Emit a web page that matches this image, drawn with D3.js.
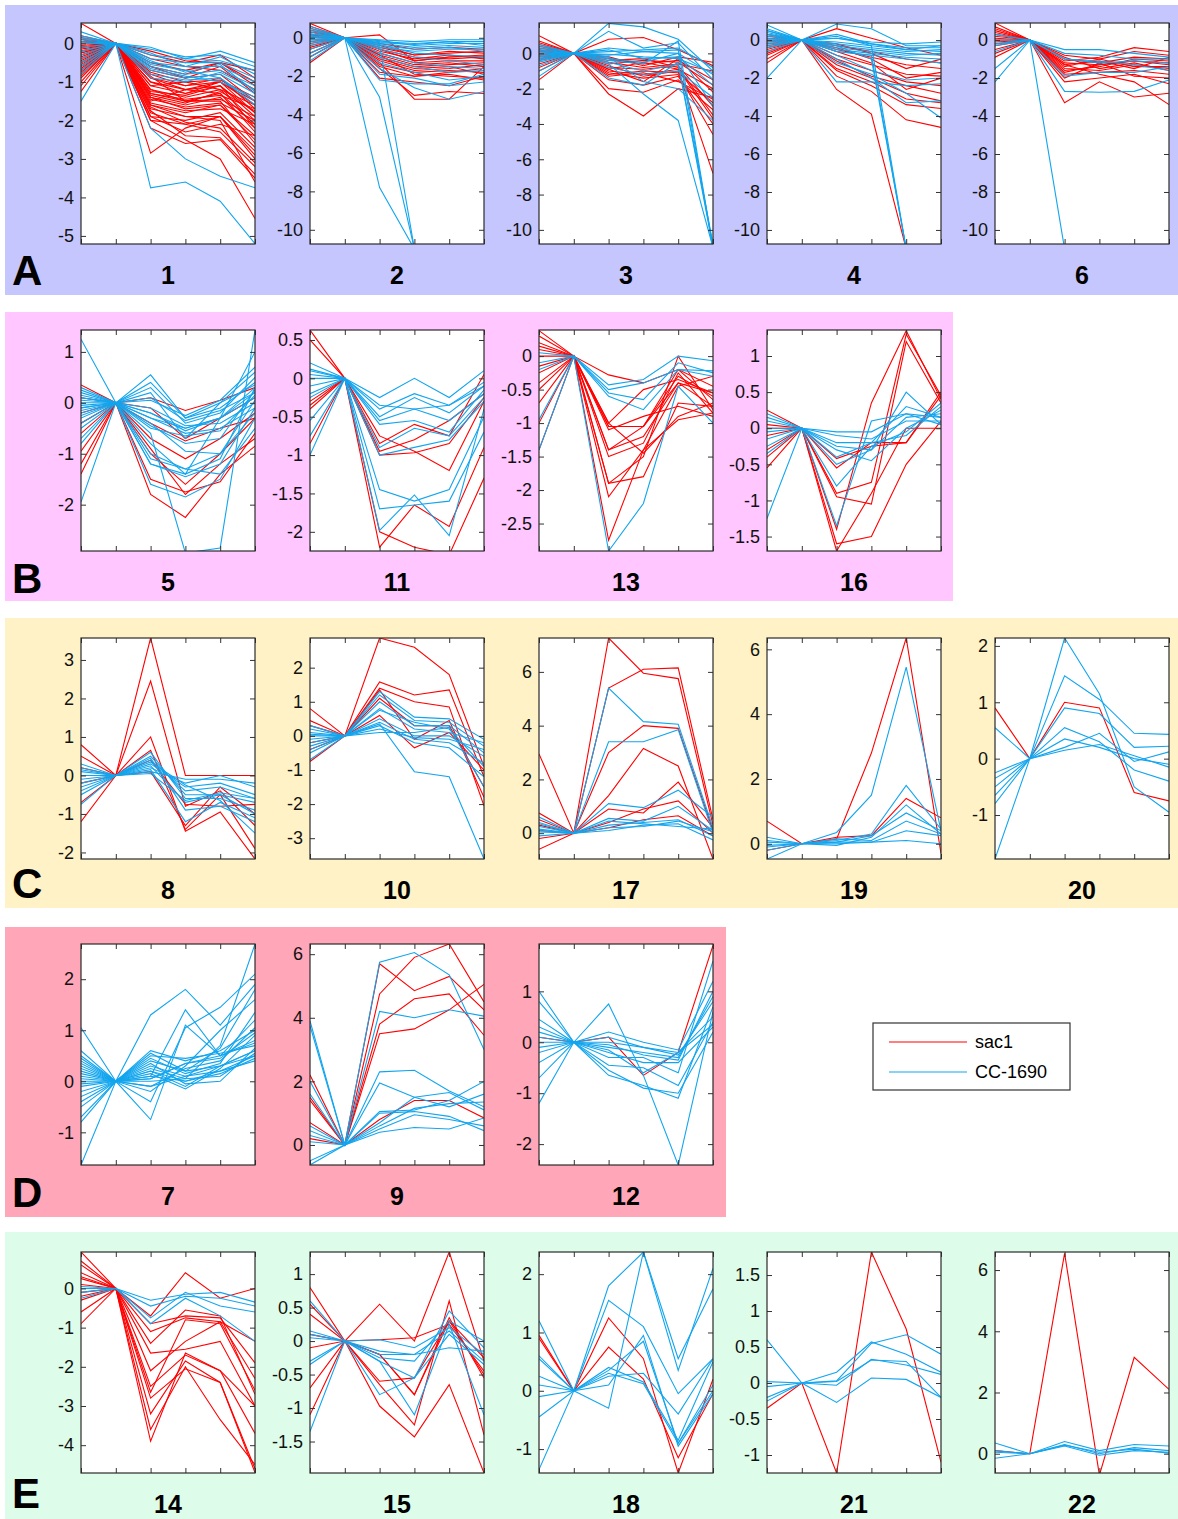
<!DOCTYPE html>
<html>
<head>
<meta charset="utf-8">
<script src="https://cdn.jsdelivr.net/npm/d3@7"></script>
<style>
  body { margin: 0; background: #fff; }
  svg { display: block; font-family: "Liberation Sans", Arial, sans-serif; }
  .tick text { font-size: 18px; fill: #111; }
  .tick line { stroke: #333; }
</style>
</head>
<body>
<div id="chart"></div>
<script>
// time points (6 samples, second one is the reference = 0)
var timePoints = [0, 1, 2, 3, 4, 5];

// ---- cluster profiles: [t0..t5] per gene, red = sac1, blue = CC-1690 ----
var c1_red = [
  [0.52,0,-0.9,-1.1,-1.0,-1.6],[0.2,0,-0.5,-0.7,-0.5,-1.0],[0.1,0,-0.7,-0.9,-0.6,-1.3],
  [0.05,0,-1.0,-1.2,-1.0,-1.8],[0,0,-0.6,-0.9,-0.8,-1.5],[-0.1,0,-1.2,-1.4,-1.2,-2.0],
  [-0.15,0,-0.8,-1.1,-0.9,-1.7],[-0.2,0,-1.4,-1.6,-1.4,-2.2],[-0.25,0,-1.1,-1.3,-1.1,-1.9],
  [-0.3,0,-1.6,-1.8,-1.6,-2.4],[-0.35,0,-0.9,-1.2,-1.3,-2.1],[-0.4,0,-1.3,-1.5,-1.5,-2.6],
  [-0.45,0,-1.7,-1.9,-1.9,-2.8],[-0.5,0,-1.0,-1.3,-1.0,-1.5],[-0.55,0,-1.5,-1.2,-1.1,-1.8],
  [-0.6,0,-1.8,-2.1,-1.9,-3.0],[-0.65,0,-1.2,-1.5,-1.3,-2.3],[-0.7,0,-2.0,-2.1,-2.3,-3.2],
  [-0.75,0,-1.9,-2.0,-1.8,-2.7],[-0.8,0,-1.4,-1.7,-1.6,-2.5],[-0.9,0,-2.2,-2.6,-2.5,-3.5],
  [-1.0,0,-2.85,-2.2,-1.9,-2.9],[-1.1,0,-1.6,-1.9,-2.0,-3.6],[-1.25,0,-2.0,-2.5,-3.0,-4.55],
  [0.1,0,-0.4,-0.6,-0.7,-1.2],[-0.05,0,-0.3,-0.5,-0.3,-0.9],[-0.2,0,-0.6,-0.8,-0.5,-1.1],
  [-0.3,0,-1.9,-2.3,-2.1,-2.4],[0.15,0,-1.1,-1.0,-1.2,-1.6],[-0.4,0,-1.25,-1.35,-1.1,-2.2],
  [-0.6,0,-0.85,-1.5,-1.45,-1.9],[-0.1,0,-1.55,-1.75,-1.7,-2.1],[-0.5,0,-1.75,-2.4,-2.45,-3.4],
  [0,0,-0.75,-1.0,-0.95,-1.4],[-0.25,0,-1.35,-1.55,-1.25,-1.75],[-0.85,0,-1.65,-2.05,-2.2,-3.1],
  [-0.1,0,-0.2,-0.45,-0.5,-0.7],[-0.7,0,-1.45,-1.65,-1.55,-2.0],[0.05,0,-1.3,-1.45,-1.35,-1.7]
];
var c1_blue = [
  [0.3,0,-0.1,-0.4,-0.2,-0.5],[0.2,0,-0.15,-0.35,-0.3,-0.6],[0.1,0,-0.3,-0.4,-0.45,-0.7],
  [0,0,-0.4,-0.5,-0.5,-0.9],[-0.1,0,-0.5,-0.6,-0.6,-1.0],[-0.2,0,-0.6,-0.8,-0.7,-1.1],
  [-0.3,0,-0.7,-0.9,-0.8,-1.3],[-0.5,0,-0.8,-0.95,-0.9,-1.5],[-0.7,0,-0.65,-0.85,-1.0,-1.4],
  [-0.8,0,-0.9,-1.0,-0.75,-1.2],[-1.5,0,-3.75,-3.6,-4.1,-5.2],[-0.6,0,-2.2,-3.0,-3.45,-3.75],
  [0.05,0,-0.25,-0.6,-0.35,-0.8],[-0.4,0,-0.55,-0.7,-0.9,-1.6],[0.15,0,-0.45,-0.75,-0.55,-1.25]
];
var c2_red = [
  [0.75,0,-0.3,-0.6,-0.5,-0.6],[0.6,0,-0.5,-0.9,-0.8,-0.7],[0.5,0,0.15,-1.2,-1.0,-0.9],
  [0.4,0,-0.6,-1.0,-1.1,-1.0],[0.3,0,-0.8,-1.3,-1.2,-1.2],[0.2,0,-0.4,-0.9,-0.7,-0.8],
  [0.1,0,-1.0,-1.5,-1.4,-1.3],[0,0,-0.7,-1.1,-0.9,-1.1],[-0.1,0,-1.2,-1.7,-1.6,-1.4],
  [-0.2,0,-0.9,-1.4,-1.3,-1.5],[-0.3,0,-1.5,-2.0,-1.8,-1.6],[-0.5,0,-1.1,-1.6,-1.5,-1.9],
  [-0.6,0,-2.1,-2.3,-2.5,-2.0],[-0.8,0,-1.3,-3.2,-3.2,-1.5],[-1.0,0,-1.6,-3.0,-2.8,-2.9],
  [-1.3,0,-0.9,-1.9,-2.0,-2.1],[0.3,0,-1.4,-1.8,-1.7,-1.8],[-0.4,0,-1.8,-2.0,-1.9,-2.2],
  [0.15,0,-0.6,-1.2,-1.0,-0.95]
];
var c2_blue = [
  [0.6,0,-0.1,-0.2,-0.1,-0.1],[0.5,0,-0.2,-0.3,-0.2,-0.2],[0.4,0,-0.15,-0.4,-0.3,-0.3],
  [0.3,0,-0.3,-0.5,-0.4,-0.5],[0.2,0,-0.25,-0.35,-0.2,-0.4],[0.1,0,-0.4,-0.6,-0.5,-0.7],
  [0,0,-0.5,-0.7,-0.6,-0.6],[-0.1,0,-0.35,-0.8,-0.9,-1.0],[-0.2,0,-0.6,-1.0,-1.2,-1.4],
  [-0.4,0,-0.8,-1.3,-1.5,-1.6],[-0.6,0,-1.0,-1.5,-1.8,-1.7],[-0.8,0,-1.3,-1.8,-2.2,-2.0],
  [-1.2,0,-2.2,-2.4,-2.4,-1.9],[-1.0,0,-1.6,-2.6,-3.2,-2.8],[0.1,0,-1.9,-2.1,-2.5,-2.3],
  [-0.3,0,-7.8,-11,-11,-11],[0.2,0,-3.1,-11,-11,-11],[-0.1,0,-0.4,-11,-11,-11]
];
var c3_red = [
  [1.0,0,-0.5,-0.8,-0.6,-1.0],[0.7,0,0.8,0.9,0.2,-0.7],[0.5,0,-0.3,-0.6,-0.4,-1.5],
  [0.3,0,-1.0,-1.2,-0.9,-2.0],[0.1,0,-0.6,-0.4,-0.5,-1.8],[0,0,-2.3,-3.55,-2.0,-2.5],
  [-0.2,0,-1.2,-1.0,-1.1,-2.8],[-0.4,0,-2.0,-2.2,-1.5,-3.2],[-0.6,0,-0.8,-0.9,-0.7,-3.0],
  [-0.8,0,-1.1,-1.4,-1.2,-4.6],[-1.0,0,-0.4,-0.3,-0.8,-3.5],[-1.5,0,-0.9,-1.6,-0.3,-2.2],
  [0.2,0,-0.7,-1.3,-1.0,-6.8],[-0.3,0,-1.5,-1.8,-1.3,-4.0],[0.4,0,-0.2,-0.7,-0.2,-0.5],
  [-0.1,0,-1.3,-1.1,-1.6,-2.6],[0.6,0,-0.9,-0.5,-0.9,-3.7]
];
var c3_blue = [
  [0.2,0,1.7,1.5,0.8,-1.0],[-0.3,0,1.25,0.3,0.6,-1.5],[0.5,0,0.1,0.2,0.3,-0.8],
  [0.3,0,-0.1,0.1,0.2,-11],[0,0,-0.3,-0.5,0,-1.2],[-0.2,0,-0.5,-1.0,-0.6,-11],
  [-0.5,0,-0.2,-1.6,-2.0,-3.8],[-0.7,0,-0.6,-2.3,-3.8,-11],[-1.0,0,-0.4,-0.6,0.7,-11],
  [0.1,0,0.2,-0.3,-0.2,-1.8],[-0.4,0,-0.8,-1.2,-1.0,-2.5],[-1.3,0,0.3,0.1,0,-3.0],
  [0.4,0,-0.05,-0.2,-0.3,-1.1],[-0.1,0,-1.4,-1.8,-0.5,-10.8]
];
var c4_red = [
  [0.3,0,0.6,0.1,-0.4,-0.8],[0.1,0,-0.3,-0.6,-1.0,-1.2],[0,0,-0.5,-0.9,-1.3,-1.5],
  [-0.2,0,-0.8,-1.3,-1.8,-1.9],[-0.4,0,-1.0,-1.6,-2.2,-2.4],[-0.6,0,-0.6,-1.2,-2.6,-2.0],
  [-0.8,0,-1.3,-2.0,-2.8,-3.2],[-1.0,0,-1.6,-2.4,-3.4,-3.6],[-1.2,0,-2.6,-3.9,-11,-11],
  [-0.5,0,-1.9,-2.7,-4.2,-4.6],[0.2,0,-0.2,-0.7,-1.5,-1.0],[-0.3,0,-1.1,-1.9,-2.4,-2.8],
  [-0.7,0,-0.4,-1.0,-2.0,-1.7],[-0.1,0,-1.5,-2.2,-3.1,-3.3]
];
var c4_blue = [
  [0.8,0,0.1,-0.1,-0.2,-0.1],[0.6,0,0.85,0.6,-0.3,-0.3],[0.5,0,0.3,-0.2,-0.4,-0.4],
  [0.4,0,-0.1,-0.3,-0.5,-0.6],[0.3,0,-0.2,-0.4,-0.6,-0.5],[0.2,0,-0.3,-0.5,-0.7,-0.8],
  [0.1,0,-0.4,-0.6,-0.8,-0.7],[0,0,-0.5,-0.7,-0.9,-1.0],[-0.2,0,-0.6,-0.8,-1.0,-1.2],
  [-0.4,0,-2.2,-2.2,-2.4,-2.3],[-0.6,0,-0.8,-1.6,-2.1,-2.0],[-2.0,0,-1.0,-2.0,-3.3,-3.2],
  [0.3,0,0.2,-0.3,-11,-11],[-0.1,0,-0.3,-1.0,-11,-11],[0.1,0,-0.6,-0.8,-11,-11],
  [-0.3,0,-1.2,-1.8,-2.8,-4.1],[0.5,0,0.1,-0.2,-0.5,-0.3]
];
var c6_red = [
  [0.9,0,-0.8,-1.0,-0.6,-0.8],[0.7,0,-1.0,-1.2,-0.9,-1.0],[0.5,0,-1.2,-1.3,-1.1,-1.2],
  [0.3,0,-1.4,-1.0,-1.4,-1.4],[0.2,0,-0.9,-1.5,-1.2,-1.6],[0,0,-1.6,-1.4,-1.0,-1.1],
  [-0.1,0,-1.8,-1.7,-1.6,-1.8],[-0.3,0,-2.0,-1.2,-1.9,-2.0],[-0.5,0,-3.3,-2.2,-3.0,-2.8],
  [-0.7,0,-1.3,-1.8,-2.2,-3.4],[0.4,0,-1.1,-0.9,-0.4,-0.6],[0.1,0,-1.5,-1.6,-1.3,-1.5],
  [-0.2,0,-2.2,-2.0,-1.8,-2.3],[0.6,0,-1.3,-1.1,-1.5,-0.9],[-0.9,0,-1.7,-1.3,-1.1,-1.3]
];
var c6_blue = [
  [0.3,0,-0.5,-0.5,-0.7,-0.9],[0,0,-0.7,-0.8,-1.0,-1.0],[-0.3,0,-1.9,-1.7,-1.7,-1.4],
  [-0.6,0,-2.7,-2.75,-2.7,-2.1],[-1.5,0,-11,-11,-11,-11],[-2.2,0,-1.0,-1.2,-1.1,-1.2],
  [-0.2,0,-1.0,-1.1,-1.3,-1.6]
];
var c5_red = [
  [0.35,0,0.1,-0.15,0.05,0.3],[-0.2,0,-0.1,-0.7,-0.3,0.1],[-0.6,0,-0.4,-0.75,-0.5,-0.3],
  [-0.95,0,-0.7,-1.1,-0.7,-0.2],[-1.4,0,-1.5,-1.75,-1.55,-0.6],[-0.4,0,-1.8,-2.25,-1.4,-0.85],
  [-1.2,0,-1.0,-1.6,-1.0,-0.3],[0.1,0,-0.9,-1.8,-1.2,-0.7]
];
var c5_blue = [
  [1.25,0,-0.3,-0.5,-0.3,0.2],[-1.95,0,-1.2,-1.4,-1.1,0.3],[0.2,0,0.55,-0.3,0,0.6],
  [0.1,0,0.4,-0.3,-0.1,0.4],[0,0,0.3,-0.4,-0.2,0.5],[-0.1,0,-0.2,-0.5,-0.3,0.1],
  [0.05,0,0.1,-0.35,-0.15,0.2],[-0.2,0,-0.1,-0.45,-0.4,0],[-0.3,0,-0.3,-0.6,-0.5,-0.1],
  [-0.05,0,-0.2,-0.55,-0.3,0.3],[0.15,0,0.05,-0.25,0.05,0.7],[-0.5,0,-0.5,-0.65,-0.55,0.15],
  [-0.7,0,-1.1,-1.3,-1.0,-0.2],[-0.1,0,-1.2,-1.45,-1.2,-0.1],[-0.25,0,-1.6,-1.85,-1.5,-0.3],
  [0.3,0,-0.8,-1.4,-0.3,1.0],[-0.4,0,-0.4,-0.95,-1.0,0.05],[0.1,0,-0.6,-2.95,-2.85,1.43],
  [-0.15,0,-1.0,-1.3,-1.4,-0.5],[0.25,0,0.2,-0.7,0,0.35],[-0.8,0,-0.45,-0.8,-0.7,0.25]
];
var c11_red = [
  [0.63,0,-2.2,-1.65,-1.93,-0.9],[0.5,0,-2.0,-2.2,-2.3,-1.3],[-0.3,0,-0.85,-0.6,-0.75,0.05],
  [-0.35,0,-0.75,-0.95,-1.2,-0.3],[-0.85,0,-0.95,-0.8,-0.55,-0.2],[-0.4,0,-1.0,-0.97,-0.85,-0.25]
];
var c11_blue = [
  [0.2,0,-0.25,0,-0.25,0.1],[0.12,0,-0.4,-0.2,-0.35,-0.05],[0.05,0,-0.5,-0.25,-0.45,-0.1],
  [0,0,-0.55,-0.4,-0.55,-0.2],[-0.1,0,-0.6,-0.55,-0.7,-0.15],[-0.25,0,-0.35,-0.4,-0.35,-0.1],
  [-0.75,0,-1.0,-0.9,-0.8,-0.3],[-1.0,0,-1.45,-1.6,-1.45,-0.5],[-0.55,0,-1.7,-1.65,-1.6,-0.7],
  [0.1,0,-1.98,-1.52,-2.05,-0.4],[-0.2,0,-0.9,-0.65,-0.75,-0.25]
];
var c13_red = [
  [0.38,0,-0.28,-0.4,-0.2,-0.45],[0.3,0,-1.05,-1.05,-0.2,-0.65],[0.15,0,-1.0,-0.5,-0.35,-0.55],
  [0.1,0,-1.4,-1.2,-0.4,-0.75],[0,0,-1.5,-1.3,-0.25,-0.85],[-0.15,0,-1.9,-1.5,0,-0.8],
  [-0.25,0,-1.9,-1.8,-0.7,-0.75],[-0.4,0,-2.1,-1.4,-0.95,-0.85],[-0.7,0,-2.75,-1.4,-0.45,-0.3],
  [-1.0,0,-1.1,-0.9,-0.75,-0.9],[-1.4,0,-1.0,-1.45,-0.9,-0.7],[0.2,0,-1.05,-1.05,-0.4,-0.55],
  [-0.5,0,-1.4,-1.05,-0.3,-0.6]
];
var c13_blue = [
  [0.05,0,-0.43,-0.35,0,-0.07],[-0.1,0,-0.55,-0.65,-0.1,-0.25],[-0.2,0,-0.6,-0.8,-0.2,-0.22],
  [-0.95,0,-0.5,-0.4,-0.2,-0.3],[-1.4,0,-2.91,-2.2,-0.45,-1.0]
];
var c16_red = [
  [0.25,0,-0.42,-0.25,-0.2,0.5],[0,0,-0.9,-0.75,1.3,0.45],[-0.1,0,-0.95,-1.05,1.2,0.35],
  [-0.4,0,-1.4,0.35,1.35,0.4],[-0.55,0,-1.7,-0.9,0,0],[-0.3,0,-1.6,-1.5,-0.5,0.1],
  [0.05,0,-0.55,-0.2,-0.2,0.45]
];
var c16_blue = [
  [0.2,0,-0.05,-0.05,0.2,0.05],[0.15,0,-0.1,-0.15,0.1,0.1],[0.1,0,-0.2,-0.2,0.3,0.15],
  [0,0,-0.25,-0.3,0.5,0.05],[-0.05,0,-0.3,-0.45,0,0.25],[-0.15,0,-0.4,-0.2,-0.1,0.3],
  [-0.25,0,-0.5,-0.3,0.15,0.2],[-0.35,0,-0.8,-0.25,-0.05,0.35],[-1.25,0,-1.35,0.1,0.2,0.15]
];
var c8_red = [
  [0.8,0,3.57,0,0,0],[0.5,0,2.45,-0.8,-0.4,-1.3],[0.2,0,1.0,-1.45,-0.95,-2.17],
  [-0.2,0,0.65,-1.4,-0.5,-1.9],[-0.7,0,0.4,-0.75,-0.8,-0.75],[-1.2,0,0.1,-1.3,-0.3,-1.0]
];
var c8_blue = [
  [0.3,0,0.1,-0.1,-0.1,-0.2],[0.2,0,0.2,-0.2,0,-0.3],[0.1,0,0.3,-0.3,-0.2,-0.5],
  [0,0,0.4,-0.4,-0.3,-0.6],[-0.1,0,0.5,-0.5,-0.5,-0.7],[-0.2,0,0.6,-0.6,-0.6,-0.9],
  [-0.3,0,0.25,-0.7,-0.5,-1.0],[-0.5,0,0.15,-1.2,-0.7,-1.1],[-0.75,0,0.35,-0.25,-0.65,-1.5],
  [0.15,0,0.05,-0.65,-0.45,-0.6],[-0.4,0,0.45,-0.9,-0.8,-1.2]
];
var c10_red = [
  [0.8,0,2.87,2.6,1.8,-0.9],[0.45,0,1.58,1.2,1.35,-1.2],[0.3,0,1.4,1.0,0.85,-2.05],
  [-0.2,0,1.1,0.3,0.3,-1.5],[-0.4,0,0.6,-0.35,0.1,-1.0],[-0.75,0,1.35,-0.1,0.45,-1.8]
];
var c10_blue = [
  [0.3,0,1.3,0.55,0.5,-0.1],[0.2,0,1.2,0.45,0.4,-0.3],[0.1,0,1.0,0.3,0.3,-0.5],
  [0,0,0.8,0.2,0.1,-0.2],[-0.1,0,0.5,0,0,-0.6],[-0.2,0,0.4,-0.1,-0.2,-0.8],
  [-0.3,0,0.3,-0.2,-0.35,-1.2],[-0.5,0,0.2,-0.05,-0.1,-0.4],[-0.7,0,0.1,0.1,0.25,-1.5],
  [0.05,0,0.35,-1.05,-1.2,-3.61],[-0.4,0,0.75,0.4,0.2,-0.9]
];
var c17_red = [
  [2.95,0,7.26,5.95,5.75,0.3],[0.75,0,3.0,4.0,3.9,0.1],[0.5,0,1.4,3.15,2.5,-0.96],
  [-0.2,0,0.9,0.75,1.9,0.2],[-0.6,0,0.4,0.9,1.2,0],[0.3,0,5.4,6.1,6.15,0.5],
  [0.1,0,0.2,0.5,0.65,-0.1]
];
var c17_blue = [
  [0.6,0,5.4,4.15,4.05,0.2],[0.4,0,3.4,3.4,3.85,0],[0.25,0,1.1,0.95,1.6,0.6],
  [0.15,0,0.55,0.45,1.0,0.1],[0.05,0,0.3,0.4,0.5,-0.1],[-0.1,0,0.1,0.3,0.35,-0.25],
  [0.35,0,0.2,0.25,0.45,0.05],[0.1,0,0.45,0.35,0.25,0.15]
];
var c19_red = [
  [0.7,0,0.15,2.8,6.35,-0.3],[-0.2,0,0.2,0.25,1.4,0.8]
];
var c19_blue = [
  [0.2,0,0.35,1.5,5.45,0.4],[0.05,0,0.1,0.3,1.8,0.45],[-0.1,0,-0.05,0.2,1.2,0.3],
  [-0.2,0,0.05,0.25,0.95,0.4],[-0.47,0,0.15,0.1,0.7,0.3],[-0.05,0,0,0.05,0.4,0.25],
  [0.1,0,0.05,0.05,0.1,0]
];
var c20_red = [
  [0.9,0,1.0,0.9,-0.6,-0.75]
];
var c20_blue = [
  [0.55,0,2.14,1.15,-0.5,-0.95],[-0.25,0,1.47,1.05,0.45,0.43],[-0.35,0,0.9,0.8,0.2,0.22],
  [-0.65,0,0.55,0.3,-0.2,-0.4],[-0.8,0,0.35,0.2,0,-0.1],[-1.78,0,0.2,0.45,-0.05,0.12],
  [-0.5,0,0.15,0.25,0.05,-0.15]
];
var c7_red = [];
var c7_blue = [
  [1.05,0,-0.1,0.1,0.3,0.6],[0.6,0,1.3,1.8,1.1,1.9],[0.5,0,0.1,1.4,0.5,0.8],
  [0.4,0,-0.75,1.1,0.5,1.2],[0.3,0,0.6,0.4,0.6,1.0],[0.25,0,0.5,0.45,0.55,0.7],
  [0.2,0,0.4,0.2,0.3,0.5],[0.15,0,0.3,0.1,0.2,0.4],[0.1,0,0.2,-0.1,0.3,0.6],
  [0.05,0,0.1,0,0.15,0.45],[0,0,0,0.05,0.1,0.55],[-0.05,0,0.15,-0.15,0.25,0.9],
  [-0.1,0,-0.1,0.25,0.4,1.05],[-0.2,0,-0.2,0.3,1.0,1.6],[-0.3,0,0.25,0.05,0.7,2.69],
  [-0.5,0,-0.4,1.05,1.45,2.1],[-0.7,0,0.45,0.15,0.35,1.35],[-0.8,0,0.05,0.35,0.5,0.75],
  [-1.64,0,0.35,-0.05,0,0.65],[0.35,0,0.55,0.2,0.65,1.8],[-0.4,0,0.2,0.0,0.2,0.5],
  [0.45,0,0.05,0.35,0.45,0.95]
];
var c9_red = [
  [2.2,0,5.7,4.85,5.3,4.25],[1.5,0,4.75,5.9,6.32,4.5],[0.7,0,3.8,4.6,4.75,3.45],
  [1.4,0,3.5,3.65,4.25,5.05],[0.2,0,0.8,1.4,1.4,0.85]
];
var c9_blue = [
  [3.9,0,5.75,6.05,5.35,3.0],[3.75,0,4.2,4.0,4.25,4.05],[2.0,0,2.3,2.35,1.7,1.2],
  [1.6,0,1.95,1.5,1.2,1.6],[0.6,0,1.05,1.1,1.4,2.0],[0.45,0,0.7,1.5,1.65,1.1],
  [0.1,0,0.5,0.95,0.8,0.6],[-0.5,0,0.4,0.55,0.5,0.85],[-0.63,0,1.0,1.05,0.9,0.45],
  [0.3,0,0.6,1.15,1.3,1.35]
];
var c12_red = [
  [0.1,0,0.1,-0.65,-0.2,1.9]
];
var c12_blue = [
  [1.0,0,0.1,-0.1,-0.2,0.5],[0.8,0,-0.1,-0.2,-0.3,0.9],[0.45,0,0.2,0,-0.15,1.2],
  [0.2,0,-0.2,-0.4,-0.4,0.3],[0.1,0,0.75,-0.65,-2.41,0.6],[0,0,-0.3,-0.3,-0.6,1.6],
  [-0.1,0,-0.45,-0.5,-0.85,0.4],[-0.2,0,-0.55,-0.9,-1.0,0.2],[-0.4,0,-0.65,-0.85,-1.1,0.7],
  [-0.7,0,-0.05,-0.25,-0.35,1.0],[-1.2,0,-0.15,-0.6,-0.2,0.35],[0.3,0,0,-0.1,-0.25,0.8]
];
var c14_red = [
  [0.93,0,-0.7,0.4,-0.25,0],[0.7,0,-0.9,-0.7,-0.75,-1.9],[0.6,0,-1.1,-0.75,-0.85,-2.3],
  [0.4,0,-1.4,-0.55,-0.7,-2.7],[0.25,0,-1.65,-1.55,-1.35,-3.0],[-0.2,0,-2.1,-1.35,-0.85,-1.35],
  [-0.3,0,-2.5,-1.7,-2.1,-3.7],[-0.6,0,-2.8,-2.05,-2.4,-4.6],[-0.9,0,-3.2,-1.85,-2.4,-4.7],
  [0.1,0,-3.6,-2.0,-3.35,-4.5],[-0.1,0,-3.9,-1.65,-2.1,-3.0],[0.3,0,-2.65,-0.8,-0.9,-2.6]
];
var c14_blue = [
  [0.05,0,-0.3,-0.15,-0.1,-0.35],[0,0,-0.45,-0.2,-0.25,-0.45],[-0.1,0,-0.75,-0.1,-0.45,-0.6],
  [-0.25,0,-0.9,-0.25,-0.7,-1.35]
];
var c15_red = [
  [0.8,0,-0.6,-0.55,0.3,-0.5],[0.55,0,-0.2,-0.8,0.35,-0.55],[0.4,0,-0.97,-1.43,-0.65,-1.97],
  [0.1,0,0.55,0,1.33,-0.3],[-0.1,0,-0.65,-1.25,0.6,-1.4],[-0.7,0,0.02,0.05,0.25,-0.45],
  [-1.1,0,-0.2,-0.8,0.3,-0.25]
];
var c15_blue = [
  [0.6,0,-0.3,-0.55,0.45,-0.1],[0.15,0,0.02,-0.1,0.2,-0.2],[0.1,0,-0.2,-0.2,0.15,-0.3],
  [-0.3,0,-0.25,-0.3,0.3,0],[-0.35,0,-0.8,-0.55,0.1,-0.35],[-1.35,0,-0.3,-1.1,0.25,-1.1],
  [0.05,0,-0.15,-0.2,-0.1,-0.15]
];
var c18_red = [
  [0.95,0,1.25,0.55,-1.41,0.2],[0.9,0,0.75,0.2,-1.15,-0.05]
];
var c18_blue = [
  [1.2,0,1.8,2.38,0.35,2.1],[0.6,0,1.55,1.1,-0.05,0.55],[0.55,0,-0.3,2.38,0.55,1.75],
  [0.25,0,0.4,0.15,-0.85,0.5],[0.1,0,0.35,0.85,-0.9,0],[-0.1,0,0.25,0.3,-0.4,0.55],
  [-0.45,0,0.1,0.95,-0.95,-0.05],[-1.35,0,0.3,0.12,-0.9,0.1]
];
var c21_red = [
  [-0.35,0,-1.25,1.82,0.75,-1.1]
];
var c21_blue = [
  [0.6,0,-0.27,0.07,0.05,-0.2],[0.02,0,0.03,0.55,0.67,0.4],[-0.05,0,-0.03,0.33,0.25,0.12],
  [-0.2,0,0.15,0.57,0.4,0.15],[-0.25,0,0.02,0.32,0.3,-0.2]
];
var c22_red = [
  [0.1,0,6.55,-0.7,3.15,2.1]
];
var c22_blue = [
  [0.35,0,0.4,0.1,0.3,0.25],[0.05,0,0.3,0,0.2,0.1],[-0.15,0,0.25,-0.05,0.1,0.05],
  [0.1,0,0.28,0.05,0.15,0.02]
];

// y axis ranges and tick labels per cluster
var yDomains = {
  1: [-5.21, 0.53], 2: [-10.74, 0.77], 3: [-10.8, 1.72], 4: [-10.74, 0.9], 6: [-10.74, 0.9],
  5: [-2.91, 1.43], 11: [-2.25, 0.63], 13: [-2.91, 0.39], 16: [-1.7, 1.36],
  8: [-2.17, 3.57], 10: [-3.61, 2.87], 17: [-0.96, 7.26], 19: [-0.47, 6.35], 20: [-1.78, 2.14],
  7: [-1.64, 2.69], 9: [-0.63, 6.32], 12: [-2.41, 1.93],
  14: [-4.71, 0.93], 15: [-1.97, 1.33], 18: [-1.41, 2.38], 21: [-1.25, 1.82], 22: [-0.63, 6.59]
};
var yTicks = {
  1: [0,-1,-2,-3,-4,-5], 2: [0,-2,-4,-6,-8,-10], 3: [0,-2,-4,-6,-8,-10],
  4: [0,-2,-4,-6,-8,-10], 6: [0,-2,-4,-6,-8,-10],
  5: [1,0,-1,-2], 11: [0.5,0,-0.5,-1,-1.5,-2], 13: [0,-0.5,-1,-1.5,-2,-2.5],
  16: [1,0.5,0,-0.5,-1,-1.5],
  8: [3,2,1,0,-1,-2], 10: [2,1,0,-1,-2,-3], 17: [6,4,2,0], 19: [6,4,2,0], 20: [2,1,0,-1],
  7: [2,1,0,-1], 9: [6,4,2,0], 12: [1,0,-1,-2],
  14: [0,-1,-2,-3,-4], 15: [1,0.5,0,-0.5,-1,-1.5], 18: [2,1,0,-1], 21: [1.5,1,0.5,0,-0.5,-1],
  22: [6,4,2,0]
};
var clusterData = {
  1: [c1_red, c1_blue], 2: [c2_red, c2_blue], 3: [c3_red, c3_blue], 4: [c4_red, c4_blue],
  6: [c6_red, c6_blue], 5: [c5_red, c5_blue], 11: [c11_red, c11_blue], 13: [c13_red, c13_blue],
  16: [c16_red, c16_blue], 8: [c8_red, c8_blue], 10: [c10_red, c10_blue], 17: [c17_red, c17_blue],
  19: [c19_red, c19_blue], 20: [c20_red, c20_blue], 7: [c7_red, c7_blue], 9: [c9_red, c9_blue],
  12: [c12_red, c12_blue], 14: [c14_red, c14_blue], 15: [c15_red, c15_blue],
  18: [c18_red, c18_blue], 21: [c21_red, c21_blue], 22: [c22_red, c22_blue]
};

// groups A-E and the clusters they hold
var groupNames = ["A", "B", "C", "D", "E"];
var groupClusters = [[1, 2, 3, 4, 6], [5, 11, 13, 16], [8, 10, 17, 19, 20], [7, 9, 12], [14, 15, 18, 21, 22]];
var groupColors = ["#c6c6fe", "#ffc6ff", "#fff2c6", "#ffa6b8", "#ddfce9"];
var seriesNames = ["sac1", "CC-1690"];
var seriesColors = ["#ff0000", "#12a5ee"];

// layout
var svgWidth = 1178, svgHeight = 1519;
var bandTop = [5, 312, 618, 927, 1232];
var bandBottom = [295, 601, 908, 1217, 1519];
var bandRight = [1178, 953, 1178, 726, 1178];
var panelTop = [23, 330, 638, 944, 1252];
var letterBase = [285, 593, 898, 1207, 1508];
var panelH = 221, panelW = 174;
var colX = [81, 310, 539, 767, 995];

var svg = d3.select("#chart").append("svg")
  .attr("width", svgWidth)
  .attr("height", svgHeight);

var x = d3.scaleLinear().domain([0, 5]).range([0, panelW]);

groupClusters.forEach(function(clusters, gi) {
  svg.append("rect")
    .attr("x", 5).attr("y", bandTop[gi])
    .attr("width", bandRight[gi] - 5).attr("height", bandBottom[gi] - bandTop[gi])
    .attr("fill", groupColors[gi]);

  svg.append("text")
    .attr("x", 12).attr("y", letterBase[gi])
    .attr("font-size", 42)
    .attr("font-weight", "bold")
    .attr("fill", "#000")
    .text(groupNames[gi]);

  clusters.forEach(function(cid, ci) {
    var y0 = panelTop[gi];
    var g = svg.append("g").attr("transform", `translate(${colX[ci]}, ${y0})`);
    var y = d3.scaleLinear().domain(yDomains[cid]).range([panelH, 0]);

    g.append("rect").attr("width", panelW).attr("height", panelH).attr("fill", "#fff");

    var clipId = "clip" + cid;
    g.append("clipPath").attr("id", clipId)
      .append("rect").attr("width", panelW).attr("height", panelH);

    var line = d3.line()
      .x(function(d, i) { return x(timePoints[i]); })
      .y(function(d) { return y(d); });

    var lines = g.append("g").attr("clip-path", `url(#${clipId})`);
    clusterData[cid].forEach(function(series, si) {
      lines.selectAll(".s" + si)
        .data(series)
        .enter()
        .append("path")
        .attr("class", "s" + si)
        .attr("d", line)
        .attr("fill", "none")
        .attr("stroke", seriesColors[si])
        .attr("stroke-width", 1.1);
    });

    // matlab style axes: inward ticks on all four sides
    g.append("g")
      .call(d3.axisLeft(y).tickValues(yTicks[cid]).tickSize(-5).tickPadding(7).tickFormat(d => String(d)))
      .call(a => a.select(".domain").remove());
    g.append("g").attr("transform", `translate(${panelW},0)`)
      .call(d3.axisRight(y).tickValues(yTicks[cid]).tickSize(-5).tickFormat(""))
      .call(a => a.select(".domain").remove());
    g.append("g").attr("transform", `translate(0,${panelH})`)
      .call(d3.axisBottom(x).tickValues(timePoints).tickSize(-5).tickFormat(""))
      .call(a => a.select(".domain").remove());
    g.append("g")
      .call(d3.axisTop(x).tickValues(timePoints).tickSize(-5).tickFormat(""))
      .call(a => a.select(".domain").remove());

    g.append("rect").attr("width", panelW).attr("height", panelH)
      .attr("fill", "none").attr("stroke", "#2a2a2a").attr("stroke-width", 1.2);

    g.append("text")
      .attr("x", panelW / 2).attr("y", panelH + 40)
      .attr("text-anchor", "middle")
      .attr("font-size", 25)
      .attr("font-weight", "bold")
      .text(cid);
  });
});

// legend
var legend = svg.append("g").attr("transform", "translate(873, 1023)");
legend.append("rect").attr("width", 197).attr("height", 67)
  .attr("fill", "#fff").attr("stroke", "#333").attr("stroke-width", 1.2);
seriesNames.forEach(function(name, i) {
  legend.append("line")
    .attr("x1", 16).attr("x2", 94)
    .attr("y1", 19 + i * 30).attr("y2", 19 + i * 30)
    .attr("stroke", seriesColors[i]).attr("stroke-width", 1.2);
  legend.append("text")
    .attr("x", 102).attr("y", 25 + i * 30)
    .attr("font-size", 18)
    .text(name);
});
</script>
</body>
</html>
